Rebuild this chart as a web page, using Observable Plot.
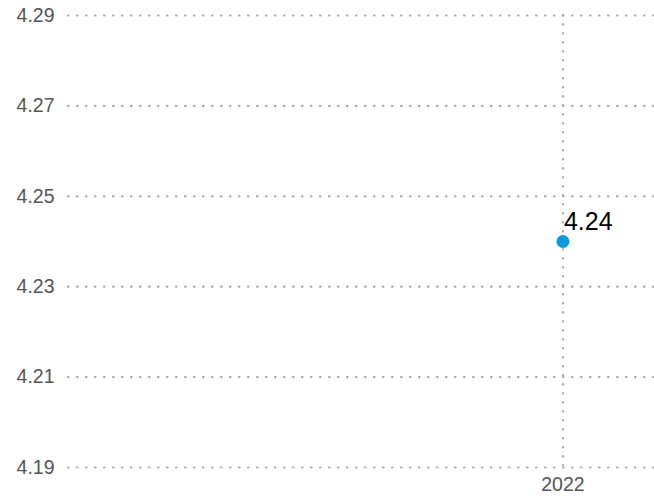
<!DOCTYPE html>
<html>
<head>
<meta charset="utf-8">
<script src="https://cdn.jsdelivr.net/npm/d3@7"></script>
<script src="https://cdn.jsdelivr.net/npm/@observablehq/plot@0.6"></script>
<style>
  html, body { margin: 0; padding: 0; background: #fff; }
  #chart svg { display: block; }
</style>
</head>
<body>
<div id="chart"></div>
<script>
const years = [2022];
const values = [4.24];
const yTicks = [4.19, 4.21, 4.23, 4.25, 4.27, 4.29];
const xTicks = [2022];

const data = years.map((y, i) => ({ year: y, value: values[i] }));

const chart = Plot.plot({
  width: 654,
  height: 499,
  marginTop: 15,
  marginBottom: 32,
  marginLeft: 68,
  marginRight: 0,
  style: { fontFamily: "'Liberation Sans', Arial, sans-serif", background: "#fff" },
  x: { domain: [2016.6, 2023], ticks: xTicks, tickFormat: d => String(d), label: null },
  y: { domain: [4.19, 4.29], ticks: yTicks, tickFormat: d => d.toFixed(2), label: null },
  marks: [
    Plot.gridY(yTicks, { stroke: "#aaa", strokeOpacity: 1, strokeWidth: 2.2, strokeDasharray: "0.5,8.5", strokeLinecap: "round" }),
    Plot.gridX(xTicks, { stroke: "#aaa", strokeOpacity: 1, strokeWidth: 2.2, strokeDasharray: "0.5,8.5", strokeLinecap: "round", y1: 4.29, y2: 4.19 }),
    Plot.axisY(yTicks, { tickSize: 0, tickPadding: 14, fontSize: 19.5, fill: "#555", tickFormat: d => d.toFixed(2), label: null }),
    Plot.axisX(xTicks, { tickSize: 0, tickPadding: 10, fontSize: 19.5, fill: "#555", tickFormat: d => String(d), label: null }),
    Plot.dot(data, { x: "year", y: "value", r: 6.5, fill: "#0a9ade", stroke: "none" }),
    Plot.text(data, { x: "year", y: "value", text: d => d.value.toFixed(2), textAnchor: "start", dx: 1, dy: -20, fontSize: 25, fill: "#000" })
  ]
});
document.getElementById("chart").append(chart);
</script>
</body>
</html>
